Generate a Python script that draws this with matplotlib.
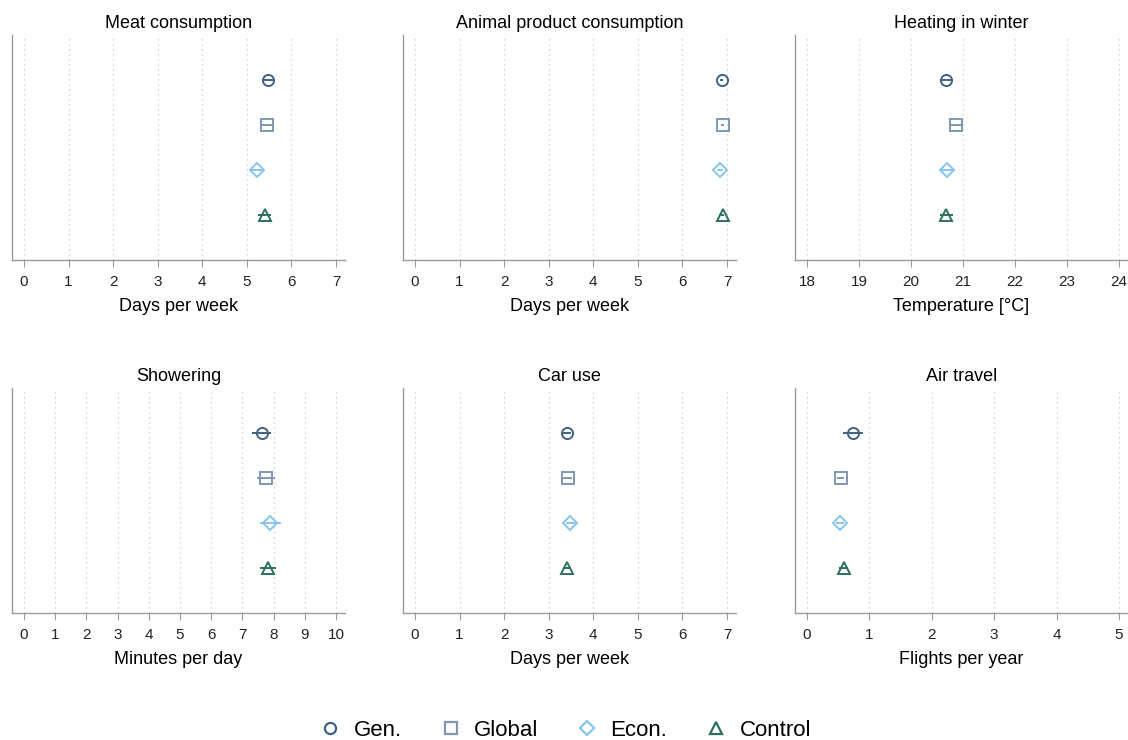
import matplotlib
matplotlib.use("Agg")
import matplotlib.pyplot as plt
from matplotlib.lines import Line2D

plt.rcParams["font.family"] = ["Liberation Sans", "DejaVu Sans"]

# treatment groups, top to bottom in each panel
groups = ["Gen.", "Global", "Econ.", "Control"]
colors = ["#3f6283", "#8197b2", "#86c4ee", "#2f6f60"]
markers = ["o", "s", "D", "^"]
sizes = [8, 8, 7.5, 8]

titles = ["Meat consumption", "Animal product consumption", "Heating in winter",
          "Showering", "Car use", "Air travel"]
xlabels = ["Days per week", "Days per week", "Temperature [°C]",
           "Minutes per day", "Days per week", "Flights per year"]
xticks = [range(0, 8), range(0, 8), range(18, 25),
          range(0, 11), range(0, 8), range(0, 6)]

# group means and 95% CI half widths per outcome
means = [
    [5.48, 5.45, 5.22, 5.40],
    [6.88, 6.90, 6.84, 6.90],
    [20.68, 20.87, 20.70, 20.68],
    [7.62, 7.75, 7.90, 7.82],
    [3.41, 3.43, 3.48, 3.41],
    [0.74, 0.54, 0.53, 0.59],
]
ci = [
    [0.13, 0.14, 0.15, 0.15],
    [0.04, 0.04, 0.06, 0.04],
    [0.12, 0.13, 0.13, 0.12],
    [0.31, 0.28, 0.33, 0.26],
    [0.10, 0.10, 0.10, 0.10],
    [0.16, 0.06, 0.07, 0.07],
]

fig = plt.figure(figsize=(11.28, 7.4), dpi=100)
W, H = 1128, 740
lefts = [12, 403, 795]
tops = [35, 388]
ax_w, ax_h = 333, 225

for i in range(6):
    r, c = divmod(i, 3)
    ax = fig.add_axes([lefts[c] / W, 1 - (tops[r] + ax_h) / H, ax_w / W, ax_h / H])
    t = list(xticks[i])
    # first tick sits 12 px inside the frame, last one about 9 px from the end
    span = t[-1] - t[0]
    px = (ax_w - 21) / span
    ax.set_xlim(t[0] - 12 / px, t[-1] + 9 / px)
    ax.set_ylim(0, 5)
    for k in range(4):
        y = 4 - k
        ax.errorbar(means[i][k], y, xerr=ci[i][k], fmt=markers[k], color=colors[k],
                    mfc="none", mec=colors[k], ms=sizes[k],
                    mew=1.4, elinewidth=1.4, capsize=0, zorder=3)
    ax.set_xticks(t)
    ax.set_yticks([])
    ax.grid(axis="x", color="#c8c8c8", linestyle=(0, (1, 3)), linewidth=0.9)
    for s in ["top", "right"]:
        ax.spines[s].set_visible(False)
    for s in ["left", "bottom"]:
        ax.spines[s].set_color("#9a9a9a")
        ax.spines[s].set_linewidth(1.0)
    ax.tick_params(axis="x", direction="out", length=5, color="#9a9a9a",
                   labelsize=11, pad=6, labelcolor="#222222")
    ax.set_title(titles[i], fontsize=13, pad=5)
    ax.set_xlabel(xlabels[i], fontsize=13, labelpad=6)

handles = [Line2D([], [], linestyle="none", marker=markers[k], color=colors[k],
                  mfc="none", mew=1.6, ms=8 if markers[k] != "D" else 7)
           for k in range(4)]
fig.legend(handles, groups, loc="center", bbox_to_anchor=(0.5, 1 - 730 / H),
           ncol=4, frameon=False, fontsize=16, handletextpad=0.45,
           columnspacing=1.6, handlelength=1.2)

fig.savefig("out.png", dpi=100)
